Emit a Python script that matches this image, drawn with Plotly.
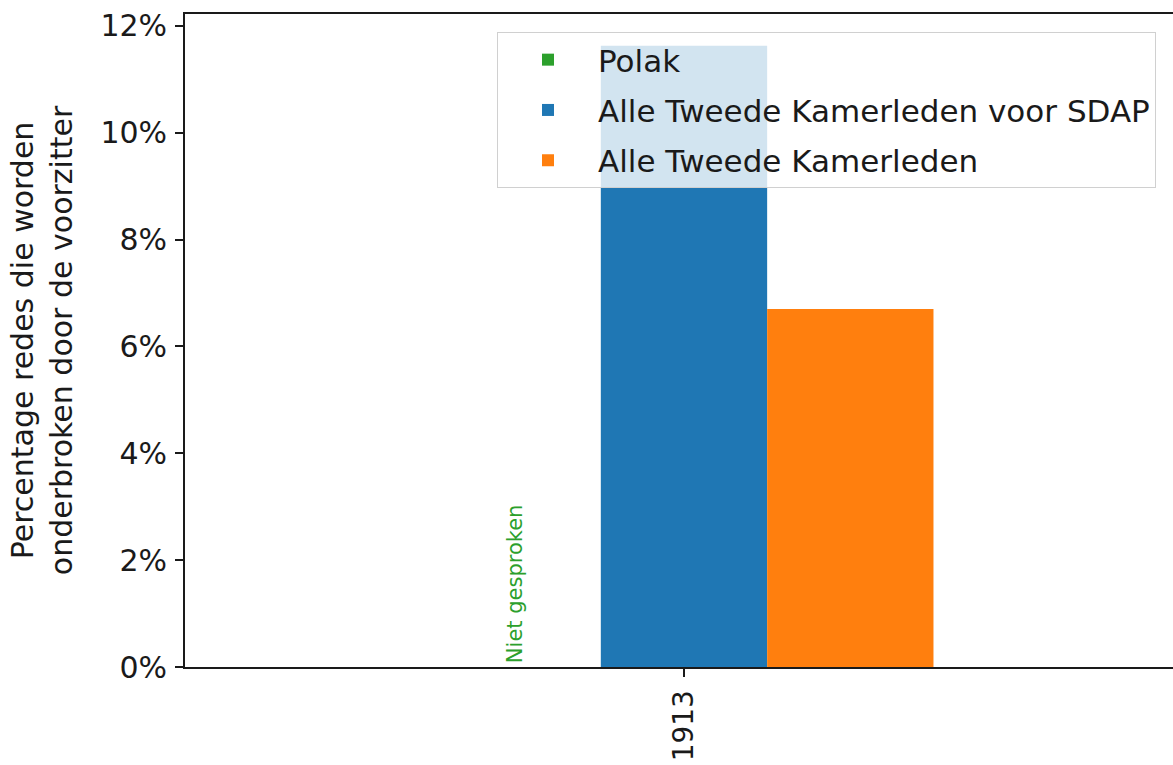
import plotly.graph_objects as go

years = ["1913"]
polak = [None]
sdap = [11.63]
alle = [6.70]
series_names = ["Polak", "Alle Tweede Kamerleden voor SDAP", "Alle Tweede Kamerleden"]
series_colors = ["#2ca02c", "#1f77b4", "#ff7f0e"]
y_ticks = [0, 2, 4, 6, 8, 10, 12]
y_tick_labels = ["0%", "2%", "4%", "6%", "8%", "10%", "12%"]
note_text = "Niet gesproken"

FONT = "DejaVu Sans"
INK = "#1a1a1a"

fig = go.Figure()
for i, (name, vals, col) in enumerate(zip(series_names, [polak, sdap, alle], series_colors)):
    fig.add_trace(go.Bar(
        x=years, y=vals, name=name, marker=dict(color=col, line=dict(width=0)),
        legendgroup=f"g{i}",
    ))

# annotation for missing Polak value
fig.add_annotation(
    x=-1/6, y=0, xref="x", yref="y", text=note_text, showarrow=False,
    textangle=-90, yanchor="bottom", xanchor="center", yshift=2, xshift=-3,
    font=dict(family=FONT, size=21, color="#2ca02c"),
)

fig.update_layout(
    width=1173, height=765,
    margin=dict(l=185, r=0, t=14, b=98),
    paper_bgcolor="white", plot_bgcolor="white",
    barmode="group", bargap=0.5, bargroupgap=0,
    font=dict(family=FONT, size=30, color=INK),
    showlegend=True,
    legend=dict(
        x=(497 - 185) / 988, y=(667 - 32) / 653, xanchor="left", yanchor="top",
        bgcolor="rgba(255,255,255,0.8)", bordercolor="#d0d0d0", borderwidth=1,
        font=dict(family=FONT, size=31, color=INK),
        itemwidth=90, tracegroupgap=7, traceorder="grouped",
    ),
    xaxis=dict(
        type="category", range=[-0.5, 0.49], tickangle=-90,
        ticks="outside", ticklen=8, tickwidth=1.5, tickcolor=INK,
        showline=True, linecolor=INK, linewidth=1.8, mirror=True,
        showgrid=False, zeroline=False, ticklabelstandoff=2, automargin=False,
        tickfont=dict(family=FONT, size=28, color=INK),
    ),
    yaxis=dict(
        range=[0, 12.223], tickvals=y_ticks, ticktext=y_tick_labels,
        ticks="outside", ticklen=8, tickwidth=1.5, tickcolor=INK,
        showline=True, linecolor=INK, linewidth=1.8,
        showgrid=False, zeroline=False, ticklabelstandoff=2, automargin=False,
        tickfont=dict(family=FONT, size=30, color=INK),
        title=dict(text="Percentage redes die worden<br>onderbroken door de voorzitter",
                   font=dict(family=FONT, size=30, color=INK), standoff=19),
    ),
)

fig.write_html("out.html", config={"displayModeBar": False},
               post_script="document.body.style.margin='0';")
